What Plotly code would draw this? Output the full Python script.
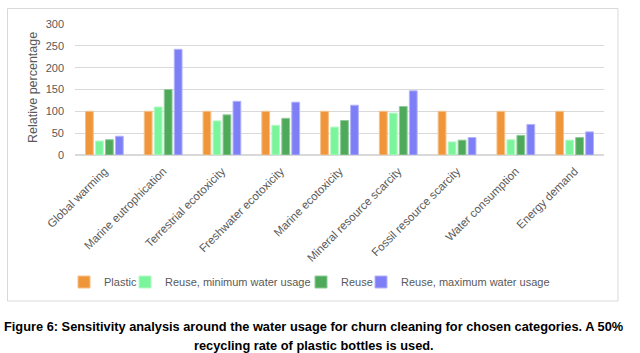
import plotly.graph_objects as go

categories = ["Global warming", "Marine eutrophication", "Terrestrial ecotoxicity",
              "Freshwater ecotoxicity", "Marine ecotoxicity", "Mineral resource scarcity",
              "Fossil resource scarcity", "Water consumption", "Energy demand"]
plastic = [100, 100, 100, 100, 100, 100, 100, 100, 100]
reuse_min = [32, 110, 78, 68, 64, 96, 30, 35, 34]
reuse = [35, 150, 92, 84, 79, 111, 34, 45, 40]
reuse_max = [43, 242, 123, 121, 114, 147, 40, 70, 53]
y_ticks = [0, 50, 100, 150, 200, 250, 300]

series = [
    ("Plastic", plastic, "#F0963A", "#F7C08A"),
    ("Reuse, minimum water usage", reuse_min, "#7AF59C", "#B5F9C6"),
    ("Reuse", reuse, "#4EAA5A", "#8FCB96"),
    ("Reuse, maximum water usage", reuse_max, "#7E7FF6", "#B3B4FA"),
]

W, H = 640, 353
L, R, T, B = 75, 604, 24, 155
pw, ph = R - L, B - T

def px(x):
    return (x - L) / pw

def py(y):
    return (B - y) / ph

legend_names = ["legend", "legend2", "legend3", "legend4"]
legend_text_x = [98, 159, 335, 395]

fig = go.Figure()
for (name, vals, col, edge), lg in zip(series, legend_names):
    fig.add_trace(go.Bar(x=categories, y=vals, name=name, legend=lg,
                         marker=dict(color=col, line=dict(color=edge, width=1))))

layout_legends = {}
for lg, tx in zip(legend_names, legend_text_x):
    layout_legends[lg] = dict(orientation="h", x=px(tx - 34), xanchor="left",
                              y=py(282), yanchor="middle",
                              font=dict(size=11, color="#595959"), itemwidth=30,
                              bgcolor="rgba(0,0,0,0)")

fig.update_layout(
    width=W, height=H,
    margin=dict(l=L, r=W - R, t=T, b=H - B, autoexpand=False),
    paper_bgcolor="white", plot_bgcolor="white",
    barmode="group", bargap=0.32, bargroupgap=0.22,
    font=dict(family="Liberation Sans, Arial, sans-serif", color="#595959", size=11),
    showlegend=True,
    xaxis=dict(tickangle=-45, tickfont=dict(size=11.5, color="#595959"),
               showgrid=False, showline=True, linecolor="#d9d9d9", linewidth=1,
               ticks="", fixedrange=True, automargin=False, ticklabelstandoff=4),
    yaxis=dict(range=[0, 300], tickvals=y_ticks, showgrid=True, gridcolor="#d9d9d9",
               gridwidth=1, zeroline=True, zerolinecolor="#d9d9d9", showline=False,
               tickfont=dict(size=11, color="#595959"), ticks="", ticklabelstandoff=10,
               automargin=False),
    **layout_legends,
)

fig.add_annotation(xref="paper", yref="paper", x=px(33), y=py(88), xanchor="center",
                   yanchor="middle", showarrow=False, textangle=-90,
                   text="Relative percentage", font=dict(size=12.5, color="#595959"))

fig.add_shape(type="rect", xref="paper", yref="paper",
              x0=px(7.5), x1=px(618), y0=py(301), y1=py(8.5),
              line=dict(color="#d9d9d9", width=1), layer="below")

cap_font = dict(family="Liberation Sans, Arial", size=12.8, color="black", weight="bold")
fig.add_annotation(xref="paper", yref="paper", x=px(313.5), y=py(326), xanchor="center",
                   yanchor="middle", showarrow=False,
                   text="Figure 6: Sensitivity analysis around the water usage for churn cleaning for chosen categories. A 50%",
                   font=cap_font)
fig.add_annotation(xref="paper", yref="paper", x=px(313.5), y=py(345), xanchor="center",
                   yanchor="middle", showarrow=False,
                   text="recycling rate of plastic bottles is used.", font=cap_font)

fig.write_html("out.html")
